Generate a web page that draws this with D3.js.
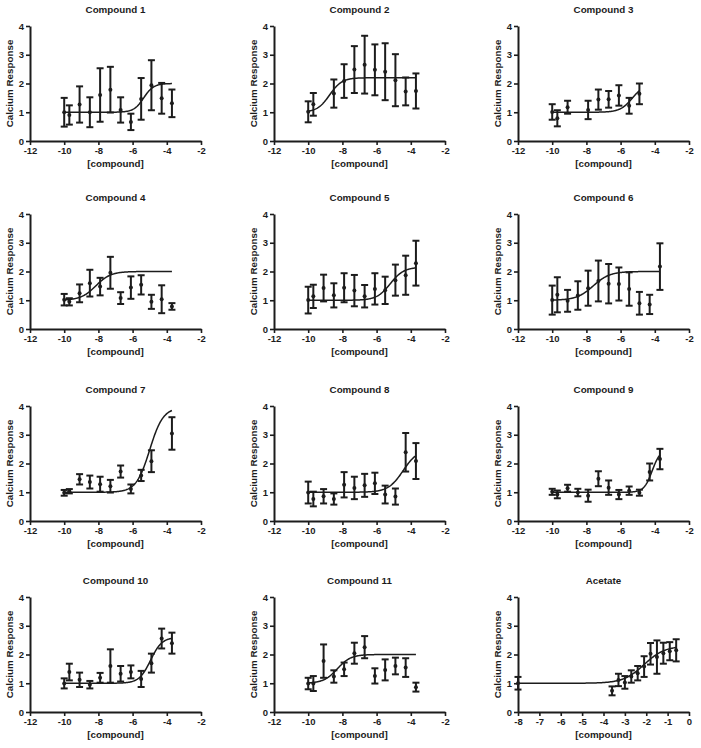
<!DOCTYPE html>
<html><head><meta charset="utf-8">
<script src="https://cdn.jsdelivr.net/npm/d3@7"></script>
<style>
body{margin:0;background:#fff;}
svg text{font-family:"Liberation Sans", Arial, sans-serif; font-weight:bold; fill:#1c1c1c;}
</style></head><body>
<svg id="chart" width="701" height="748"></svg>
<script>
// ---------- data ----------
const titles = ["Compound 1","Compound 2","Compound 3","Compound 4","Compound 5","Compound 6",
  "Compound 7","Compound 8","Compound 9","Compound 10","Compound 11","Acetate"];
const compoundDoses = [-10,-9.7,-9.1,-8.5,-7.9,-7.3,-6.7,-6.1,-5.5,-4.9,-4.3,-3.7];
const acetateDoses  = [-8,-3.6,-3.3,-3.0,-2.7,-2.4,-2.1,-1.8,-1.5,-1.2,-0.9,-0.6];
const means = [
  [1.0,0.905,1.27,1.0,1.6,1.785,1.08,0.665,1.465,1.94,1.485,1.31],
  [1.015,1.275,null,1.65,2.085,2.485,2.655,2.475,2.41,2.115,1.725,1.74],
  [1.01,0.79,1.175,null,1.08,1.44,1.45,1.585,1.225,1.64,null,null],
  [1.02,0.945,1.24,1.595,1.475,1.955,1.075,1.44,1.535,0.945,1.035,0.785],
  [1.005,1.135,1.425,1.17,1.435,1.335,1.14,1.395,1.345,1.7,1.87,2.29],
  [1.005,1.19,0.98,1.165,1.42,1.67,1.575,1.565,1.39,0.895,0.855,2.17],
  [0.98,1.035,1.45,1.355,1.28,1.21,1.72,1.115,1.585,2.08,null,3.045],
  [0.99,0.765,0.86,0.765,1.26,1.15,1.24,1.31,0.92,0.85,2.39,2.085],
  [1.015,0.925,1.14,0.99,0.88,1.47,1.16,0.92,1.055,0.985,1.705,2.155],
  [0.995,1.39,1.12,0.95,1.19,1.6,1.33,1.395,1.15,1.7,2.555,2.395],
  [0.99,0.99,1.77,1.235,1.485,2.045,2.255,1.255,1.465,1.6,1.545,0.865],
  [1.0,0.735,1.115,1.03,1.235,1.35,1.58,2.025,1.91,2.045,2.115,2.145]
];
const sds = [
  [0.5,0.335,0.63,0.52,0.93,0.795,0.44,0.285,0.725,0.87,0.535,0.48],
  [0.365,0.395,null,0.49,0.585,0.815,1.005,0.885,0.99,0.905,0.485,0.61],
  [0.27,0.28,0.225,null,0.32,0.35,0.29,0.355,0.275,0.36,null,null],
  [0.2,0.125,0.31,0.465,0.305,0.555,0.205,0.39,0.335,0.245,0.485,0.115],
  [0.465,0.405,0.465,0.42,0.505,0.545,0.39,0.545,0.475,0.54,0.68,0.78],
  [0.505,0.61,0.38,0.495,0.61,0.71,0.685,0.575,0.58,0.395,0.335,0.81],
  [0.1,0.075,0.18,0.225,0.26,0.22,0.21,0.155,0.195,0.38,null,0.565],
  [0.38,0.255,0.25,0.195,0.44,0.39,0.4,0.37,0.31,0.28,0.67,0.625],
  [0.105,0.135,0.12,0.13,0.21,0.26,0.25,0.16,0.145,0.105,0.295,0.355],
  [0.175,0.29,0.25,0.13,0.17,0.58,0.27,0.225,0.28,0.33,0.345,0.365],
  [0.2,0.26,0.58,0.215,0.235,0.365,0.385,0.265,0.365,0.29,0.325,0.155],
  [0.22,0.155,0.215,0.22,0.215,0.25,0.36,0.375,0.58,0.365,0.315,0.385]
];
// four-parameter logistic fits
const fitBottom  = [1,1,1,1,1,1,1,1,1,1,1,1];
const fitTop     = [2,2.2,2,2,2.15,2,3.95,2.5,2.5,2.6,2,2.3];
const fitLogEC50 = [-5.35,-8.75,-5.3,-8.15,-5.2,-7.6,-5.0,-4.45,-4.15,-4.95,-8.3,-2.1];
const fitHill    = [1.5,1.2,1.2,1.0,1.1,0.9,1.1,1.0,1.8,1.3,1.1,0.9];
const yTicks = [0,1,2,3,4];
const compoundXTicks = [-12,-10,-8,-6,-4,-2];
const acetateXTicks = [-8,-7,-6,-5,-4,-3,-2,-1,0];
const yLabel = "Calcium  Response";
const xLabel = "[compound]";

// ---------- layout ----------
const colLeft = [30, 274, 518];
const rowTop = [26, 214, 406, 597];
const plotW = 171, plotH = 115;
const ink = "#1c1c1c";

const svg = d3.select("#chart");

titles.forEach((title, i) => {
  const r = Math.floor(i / 3), c = i % 3;
  const isAcetate = i === 11;
  const doses = isAcetate ? acetateDoses : compoundDoses;
  const x = d3.scaleLinear().domain(isAcetate ? [-8, 0] : [-12, -2]).range([0, plotW]);
  const y = d3.scaleLinear().domain([0, 4]).range([plotH, 0]);
  const g = svg.append("g").attr("transform", `translate(${colLeft[c]},${rowTop[r]})`);

  // axes
  const yAxis = d3.axisLeft(y).tickValues(yTicks).tickSize(4).tickSizeOuter(0).tickPadding(2)
    .tickFormat(d => String(d));
  const xAxis = d3.axisBottom(x).tickValues(isAcetate ? acetateXTicks : compoundXTicks)
    .tickSize(4).tickSizeOuter(0).tickPadding(2).tickFormat(d => String(d));
  const ga = g.append("g").attr("transform", `translate(0,${plotH})`).call(xAxis);
  const gy = g.append("g").call(yAxis);
  [ga, gy].forEach(a => {
    a.select(".domain").attr("stroke", ink).attr("stroke-width", 2);
    a.selectAll(".tick line").attr("stroke", ink).attr("stroke-width", 1.6);
    a.selectAll(".tick text").attr("font-size", 9.5).attr("font-family", null).attr("fill", ink);
  });

  // labels
  g.append("text").attr("x", plotW / 2).attr("y", -13.5).attr("text-anchor", "middle")
    .attr("font-size", 9.8).text(title);
  g.append("text").attr("x", plotW / 2).attr("y", plotH + 26).attr("text-anchor", "middle")
    .attr("font-size", 9.8).text(xLabel);
  g.append("text").attr("transform", `translate(-17,${plotH / 2}) rotate(-90)`)
    .attr("text-anchor", "middle").attr("font-size", 9.8).text(yLabel);

  // fitted curve
  const pts = doses.map((d, k) => ({x: d, m: means[i][k], s: sds[i][k]})).filter(p => p.m !== null);
  const x0 = pts[0].x, x1 = pts[pts.length - 1].x;
  const f = v => fitBottom[i] + (fitTop[i] - fitBottom[i]) / (1 + Math.pow(10, (fitLogEC50[i] - v) * fitHill[i]));
  const samples = d3.range(0, 201).map(k => x0 + (x1 - x0) * k / 200);
  g.append("path").datum(samples)
    .attr("d", d3.line().x(v => x(v)).y(v => y(f(v))).curve(d3.curveLinear))
    .attr("fill", "none").attr("stroke", ink).attr("stroke-width", 1.5);

  // error bars
  const eb = g.append("g").attr("stroke", ink);
  eb.selectAll("line.v").data(pts).join("line").attr("class", "v")
    .attr("x1", p => x(p.x)).attr("x2", p => x(p.x))
    .attr("y1", p => y(p.m + p.s)).attr("y2", p => y(p.m - p.s)).attr("stroke-width", 2);
  ["top", "bot"].forEach(k => {
    eb.selectAll("line." + k).data(pts).join("line").attr("class", k)
      .attr("x1", p => x(p.x) - 3.5).attr("x2", p => x(p.x) + 3.5)
      .attr("y1", p => y(k === "top" ? p.m + p.s : p.m - p.s))
      .attr("y2", p => y(k === "top" ? p.m + p.s : p.m - p.s)).attr("stroke-width", 2);
  });
  g.selectAll("circle").data(pts).join("circle")
    .attr("cx", p => x(p.x)).attr("cy", p => y(p.m)).attr("r", 2).attr("fill", ink);
});
</script>
</body></html>
